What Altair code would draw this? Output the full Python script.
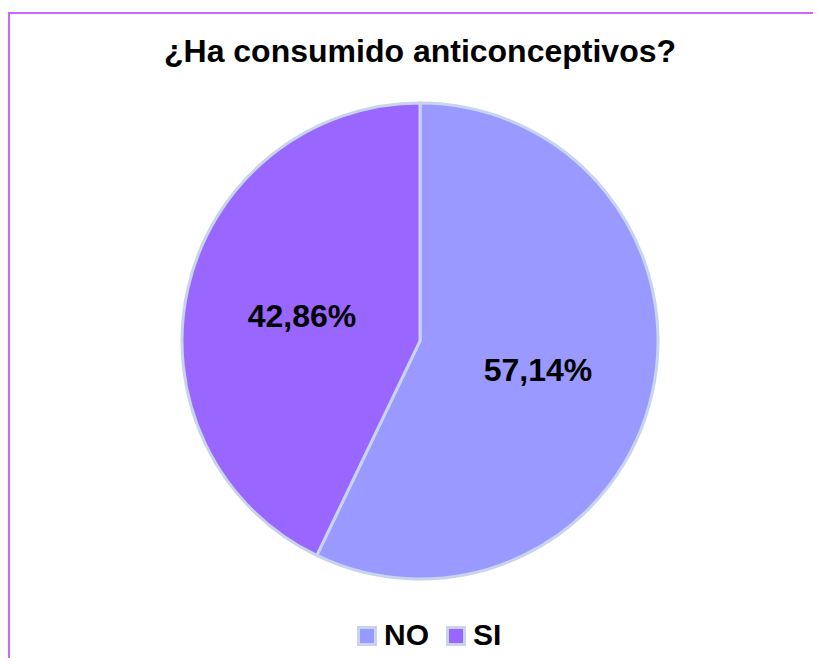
import altair as alt
import pandas as pd

categories = ["NO", "SI"]
values = [57.14, 42.86]
labels = ["57,14%", "42,86%"]
colors = ["#9999FF", "#9966FF"]
title_text = "¿Ha consumido anticonceptivos?"

df = pd.DataFrame({"cat": categories, "val": values, "lab": labels, "ord": [0, 1]})

W, H = 805, 650
CX, CY, R = 412, 333, 238

base = alt.Chart(df).encode(
    theta=alt.Theta("val:Q", stack=True),
    order=alt.Order("ord:O"),
)

pie = base.mark_arc(outerRadius=R, stroke="#C8D4EA", strokeWidth=3).encode(
    x=alt.value(CX), y=alt.value(CY),
    color=alt.Color("cat:N", scale=alt.Scale(domain=categories, range=colors),
                    legend=alt.Legend(title=None, orient="none", direction="horizontal",
                                      legendX=344, legendY=613,
                                      symbolType="square", symbolSize=289,
                                      symbolStrokeColor="#C8D4EA", symbolStrokeWidth=3,
                                      symbolOpacity=1,
                                      labelFont="Liberation Sans", labelFontSize=30,
                                      labelFontWeight="bold", labelColor="#000000",
                                      columnPadding=12, labelOffset=2)),
)

text = base.mark_text(radius=121, dy=3, font="Liberation Sans", fontSize=32, fontWeight="bold",
                      color="#000000").encode(
    x=alt.value(CX), y=alt.value(CY), text="lab:N")

title = alt.Chart(pd.DataFrame({"t": [title_text]})).mark_text(
    font="Liberation Sans", fontSize=32, fontWeight="bold", color="#000000",
    baseline="middle", align="center").encode(
    x=alt.value(CX), y=alt.value(44), text="t:N")

frame_top = alt.Chart(pd.DataFrame({"a": [0]})).mark_rule(color="#CC66FF", strokeWidth=2).encode(
    x=alt.value(0), x2=alt.value(W), y=alt.value(5))
frame_left = alt.Chart(pd.DataFrame({"a": [0]})).mark_rule(color="#CC66FF", strokeWidth=2).encode(
    x=alt.value(1), y=alt.value(5), y2=alt.value(H))

chart = alt.layer(frame_top, frame_left, pie, text, title).properties(
    width=W, height=H, autosize=alt.AutoSizeParams(type="none"), padding=0
).configure_view(stroke=None)

chart.save("out.html", embed_options={"renderer": "svg", "actions": False})
